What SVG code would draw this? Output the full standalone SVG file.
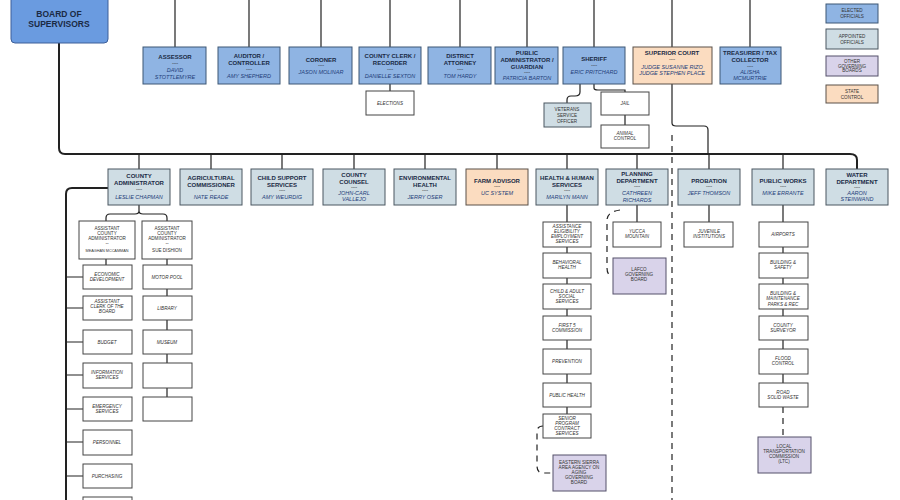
<svg xmlns="http://www.w3.org/2000/svg" width="900" height="500" viewBox="0 0 900 500">
<style>
text{font-family:"Liberation Sans",Arial,sans-serif;text-anchor:middle;fill:#1a2a44}
.b{font-weight:bold;font-size:6px}
.n{font-style:italic;font-size:5.5px;fill:#24407a}
.s{font-size:4.6px;font-style:italic;fill:#333}
.el rect{fill:#8fb4e3;stroke:#3d5775;stroke-width:1}
.ap rect{fill:#cfdde4;stroke:#4a5660;stroke-width:1}
.st rect{fill:#fbdcc0;stroke:#5a5048;stroke-width:1}
.ot rect{fill:#d9d3ea;stroke:#55506a;stroke-width:1}
.wh rect{fill:#fff;stroke:#444;stroke-width:1}
.c path{fill:none;stroke:#222;stroke-width:1.2}
.c .th{stroke-width:2}
.c .d{stroke-dasharray:6,5}
</style>
<g class="c" id="connectors">
<path class="th" d="M59 43V148Q59 154 65 154H850Q857 154 857 160V169"/>
<path d="M175 0V47M249 0V47M321 0V47M390 0V47M460 0V47M527 0V47M594 0V47M672 0V47M750 0V47"/>
<path d="M390 84V91M580 84V92Q580 96 575 96H571Q567 96 567 100V103M594 84V88Q594 90 598 90H625V92M625 115V125"/>
<path d="M672 84V123Q672 126 676 126H704Q708 126 708 130V154"/>
<path class="d" d="M672 135V500"/>
<path d="M139 154V169M211 154V169M282 154V169M354 154V169M425 154V169M497 154V169M567 154V169M637 154V169M709 154V169M783 154V169"/>
<path class="th" d="M108 188H72Q66 188 66 194V500"/>
<path d="M139 205V211Q139 214 135 214H110Q106 214 106 218V221M139 211Q139 214 143 214H163Q167 214 167 218V221"/>
<path d="M106 259V265M167 259V265M167 289V296M167 320V330M167 354V363M167 388V397"/>
<path d="M66 277H83M66 308H83M66 342H83M66 375H83M66 409H83M66 442H83M66 476H83"/>
<path d="M567 205V222M567 247V253M567 278V284M567 309V316M567 340V349M567 374V383M567 407V414"/>
<path class="d" d="M543 426Q537 426 537 432V466Q537 473 543 473H553"/>
<path d="M637 205V222"/>
<path class="d" d="M620 210Q607 212 607 220V268Q607 276 613 276"/>
<path d="M709 205V222"/>
<path d="M783 205V222M783 247V253M783 278V284M783 309V316M783 340V349M783 374V383"/>
<path class="d" d="M783 407V437"/>
</g>
<g id="board"><rect x="11" y="-4" width="97" height="47" rx="4" fill="#6a9be0" stroke="#3d5f99"/><text x="59" y="17" style="font-weight:bold;font-size:8.5px">BOARD OF</text><text x="59" y="27" style="font-weight:bold;font-size:8.5px">SUPERVISORS</text></g>
<g id="assessor" class="el"><rect x="143" y="47" width="63" height="37"/><text class="b" x="175" y="59">ASSESSOR</text><text class="s" x="175" y="65">----</text><text class="n" x="175" y="72">DAVID</text><text class="n" x="175" y="79">STOTTLEMYRE</text></g>
<g id="auditor" class="el"><rect x="218" y="47" width="62" height="37"/><text class="b" x="249" y="58">AUDITOR /</text><text class="b" x="249" y="65">CONTROLLER</text><text class="s" x="249" y="71">----</text><text class="n" x="249" y="78">AMY SHEPHERD</text></g>
<g id="coroner" class="el"><rect x="289" y="47" width="63" height="37"/><text class="b" x="321" y="62">CORONER</text><text class="s" x="321" y="67">----</text><text class="n" x="321" y="74">JASON MOLINAR</text></g>
<g id="clerk" class="el"><rect x="359" y="47" width="62" height="37"/><text class="b" x="390" y="58">COUNTY CLERK /</text><text class="b" x="390" y="65">RECORDER</text><text class="s" x="390" y="71">----</text><text class="n" x="390" y="78">DANIELLE SEXTON</text></g>
<g id="elections" class="wh"><rect x="366" y="91" width="48" height="24"/><text class="s" x="390" y="105">ELECTIONS</text></g>
<g id="da" class="el"><rect x="428" y="47" width="63" height="37"/><text class="b" x="460" y="58">DISTRICT</text><text class="b" x="460" y="65">ATTORNEY</text><text class="s" x="460" y="71">----</text><text class="n" x="460" y="78">TOM HARDY</text></g>
<g id="pubadmin" class="el"><rect x="495" y="47" width="63" height="37"/><text class="b" x="527" y="55">PUBLIC</text><text class="b" x="527" y="62">ADMINISTRATOR /</text><text class="b" x="527" y="69">GUARDIAN</text><text class="s" x="527" y="74">----</text><text class="n" x="527" y="80">PATRICIA BARTON</text></g>
<g id="sheriff" class="el"><rect x="563" y="47" width="62" height="37"/><text class="b" x="594" y="61">SHERIFF</text><text class="s" x="594" y="67">----</text><text class="n" x="594" y="74">ERIC PRITCHARD</text></g>
<g id="veterans" class="ap"><rect x="544" y="103" width="47" height="24"/><text class="s" x="567" y="111" style="font-style:normal">VETERANS</text><text class="s" x="567" y="117" style="font-style:normal">SERVICE</text><text class="s" x="567" y="123" style="font-style:normal">OFFICER</text></g>
<g id="jail" class="wh"><rect x="601" y="92" width="48" height="23"/><text class="s" x="625" y="105">JAIL</text></g>
<g id="animal" class="wh"><rect x="601" y="125" width="48" height="23"/><text class="s" x="625" y="135">ANIMAL</text><text class="s" x="625" y="140">CONTROL</text></g>
<g id="court" class="st"><rect x="633" y="47" width="79" height="37"/><text class="b" x="672" y="55">SUPERIOR COURT</text><text class="s" x="672" y="61">----</text><text class="n" x="672" y="69">JUDGE SUSANNE RIZO</text><text class="n" x="672" y="75">JUDGE STEPHEN PLACE</text></g>
<g id="treasurer" class="el"><rect x="720" y="47" width="61" height="37"/><text class="b" x="750" y="55">TREASURER / TAX</text><text class="b" x="750" y="62">COLLECTOR</text><text class="s" x="750" y="68">----</text><text class="n" x="750" y="74">ALISHA</text><text class="n" x="750" y="80">MCMURTRIE</text></g>
<g id="legend-elected" class="el"><rect x="826" y="4" width="52" height="19"/><text class="s" x="852" y="12" style="font-style:normal">ELECTED</text><text class="s" x="852" y="18" style="font-style:normal">OFFICIALS</text></g>
<g id="legend-appointed" class="ap"><rect x="826" y="29" width="52" height="20"/><text class="s" x="852" y="38" style="font-style:normal">APPOINTED</text><text class="s" x="852" y="44" style="font-style:normal">OFFICIALS</text></g>
<g id="legend-other" class="ot"><rect x="826" y="56" width="52" height="20"/><text class="s" x="852" y="63" style="font-style:normal">OTHER</text><text class="s" x="852" y="67.5" style="font-style:normal">GOVERNING</text><text class="s" x="852" y="72" style="font-style:normal">BOARDS</text></g>
<g id="legend-state" class="st"><rect x="826" y="85" width="52" height="18"/><text class="s" x="852" y="93" style="font-style:normal">STATE</text><text class="s" x="852" y="99" style="font-style:normal">CONTROL</text></g>
<g id="cao" class="ap"><rect x="108" y="169" width="62" height="36"/><text class="b" x="139" y="178">COUNTY</text><text class="b" x="139" y="185">ADMINISTRATOR</text><text class="s" x="139" y="191">----</text><text class="n" x="139" y="199">LESLIE CHAPMAN</text></g>
<g id="ag" class="ap"><rect x="180" y="169" width="62" height="36"/><text class="b" x="211" y="180">AGRICULTURAL</text><text class="b" x="211" y="187">COMMISSIONER</text><text class="s" x="211" y="192">--</text><text class="n" x="211" y="199">NATE READE</text></g>
<g id="childsupport" class="ap"><rect x="251" y="169" width="62" height="36"/><text class="b" x="282" y="180">CHILD SUPPORT</text><text class="b" x="282" y="187">SERVICES</text><text class="s" x="282" y="192">----</text><text class="n" x="282" y="199">AMY WEURDIG</text></g>
<g id="counsel" class="ap"><rect x="323" y="169" width="62" height="36"/><text class="b" x="354" y="177">COUNTY</text><text class="b" x="354" y="184">COUNSEL</text><text class="s" x="354" y="189">----</text><text class="n" x="354" y="195">JOHN-CARL</text><text class="n" x="354" y="201">VALLEJO</text></g>
<g id="envhealth" class="ap"><rect x="394" y="169" width="62" height="36"/><text class="b" x="425" y="180">ENVIRONMENTAL</text><text class="b" x="425" y="187">HEALTH</text><text class="s" x="425" y="192">----</text><text class="n" x="425" y="199">JERRY OSER</text></g>
<g id="farm" class="st"><rect x="466" y="169" width="62" height="36"/><text class="b" x="497" y="183">FARM ADVISOR</text><text class="s" x="497" y="188">----</text><text class="n" x="497" y="195">UC SYSTEM</text></g>
<g id="hhs" class="ap"><rect x="536" y="169" width="62" height="36"/><text class="b" x="567" y="180">HEALTH &amp; HUMAN</text><text class="b" x="567" y="187">SERVICES</text><text class="s" x="567" y="192">----</text><text class="n" x="567" y="199">MARILYN MANN</text></g>
<g id="planning" class="ap"><rect x="606" y="169" width="62" height="36"/><text class="b" x="637" y="176">PLANNING</text><text class="b" x="637" y="183">DEPARTMENT</text><text class="s" x="637" y="188">----</text><text class="n" x="637" y="195">CATHREEN</text><text class="n" x="637" y="202">RICHARDS</text></g>
<g id="probation" class="ap"><rect x="678" y="169" width="62" height="36"/><text class="b" x="709" y="183">PROBATION</text><text class="s" x="709" y="188">----</text><text class="n" x="709" y="195">JEFF THOMSON</text></g>
<g id="publicworks" class="ap"><rect x="752" y="169" width="62" height="36"/><text class="b" x="783" y="183">PUBLIC WORKS</text><text class="s" x="783" y="188">----</text><text class="n" x="783" y="195">MIKE ERRANTE</text></g>
<g id="water" class="ap"><rect x="826" y="169" width="62" height="36"/><text class="b" x="857" y="177">WATER</text><text class="b" x="857" y="184">DEPARTMENT</text><text class="s" x="857" y="189">----</text><text class="n" x="857" y="195">AARON</text><text class="n" x="857" y="201">STEINWAND</text></g>
<g id="asst1" class="wh"><rect x="79" y="221" width="56" height="38"/><text class="s" x="107" y="230" style="font-style:normal">ASSISTANT</text><text class="s" x="107" y="235" style="font-style:normal">COUNTY</text><text class="s" x="107" y="240" style="font-style:normal">ADMINISTRATOR</text><text class="s" x="107" y="245">--</text><text class="s" x="107" y="252" style="font-size:3.8px;font-style:normal">MEAGHAN MCCAMMAN</text></g>
<g id="asst2" class="wh"><rect x="142" y="221" width="50" height="38"/><text class="s" x="167" y="230" style="font-style:normal">ASSISTANT</text><text class="s" x="167" y="235" style="font-style:normal">COUNTY</text><text class="s" x="167" y="240" style="font-style:normal">ADMINISTRATOR</text><text class="s" x="167" y="245">--</text><text class="s" x="167" y="252" style="font-style:normal">SUE DISHION</text></g>
<g id="econ" class="wh"><rect x="83" y="265" width="49" height="24"/><text class="s" x="107" y="276">ECONOMIC</text><text class="s" x="107" y="281">DEVELOPMENT</text></g>
<g id="asstclerk" class="wh"><rect x="83" y="296" width="49" height="24"/><text class="s" x="107" y="303">ASSISTANT</text><text class="s" x="107" y="308">CLERK OF THE</text><text class="s" x="107" y="313">BOARD</text></g>
<g id="budget" class="wh"><rect x="83" y="330" width="49" height="24"/><text class="s" x="107" y="344">BUDGET</text></g>
<g id="info" class="wh"><rect x="83" y="363" width="49" height="25"/><text class="s" x="107" y="374">INFORMATION</text><text class="s" x="107" y="379">SERVICES</text></g>
<g id="emerg" class="wh"><rect x="83" y="397" width="49" height="24"/><text class="s" x="107" y="408">EMERGENCY</text><text class="s" x="107" y="413">SERVICES</text></g>
<g id="personnel" class="wh"><rect x="83" y="430" width="49" height="25"/><text class="s" x="107" y="444">PERSONNEL</text></g>
<g id="purchasing" class="wh"><rect x="83" y="464" width="49" height="24"/><text class="s" x="107" y="478">PURCHASING</text></g>
<g id="cao-more" class="wh"><rect x="83" y="497" width="49" height="24"/></g>
<g id="motorpool" class="wh"><rect x="143" y="265" width="49" height="24"/><text class="s" x="167" y="279">MOTOR POOL</text></g>
<g id="library" class="wh"><rect x="143" y="296" width="49" height="24"/><text class="s" x="167" y="310">LIBRARY</text></g>
<g id="museum" class="wh"><rect x="143" y="330" width="49" height="24"/><text class="s" x="167" y="344">MUSEUM</text></g>
<g id="blank1" class="wh"><rect x="143" y="363" width="49" height="25"/></g>
<g id="blank2" class="wh"><rect x="143" y="397" width="49" height="24"/></g>
<g id="assistance" class="wh"><rect x="543" y="222" width="48" height="25"/><text class="s" x="567" y="228">ASSISTANCE</text><text class="s" x="567" y="233">ELIGIBILITY</text><text class="s" x="567" y="238">EMPLOYMENT</text><text class="s" x="567" y="243">SERVICES</text></g>
<g id="behavioral" class="wh"><rect x="543" y="253" width="48" height="25"/><text class="s" x="567" y="264">BEHAVIORAL</text><text class="s" x="567" y="269">HEALTH</text></g>
<g id="childadult" class="wh"><rect x="543" y="284" width="48" height="25"/><text class="s" x="567" y="293">CHILD &amp; ADULT</text><text class="s" x="567" y="298">SOCIAL</text><text class="s" x="567" y="303">SERVICES</text></g>
<g id="first5" class="wh"><rect x="543" y="316" width="48" height="24"/><text class="s" x="567" y="327">FIRST 5</text><text class="s" x="567" y="332">COMMISSION</text></g>
<g id="prevention" class="wh"><rect x="543" y="349" width="48" height="25"/><text class="s" x="567" y="363">PREVENTION</text></g>
<g id="publichealth" class="wh"><rect x="543" y="383" width="48" height="24"/><text class="s" x="567" y="397">PUBLIC HEALTH</text></g>
<g id="senior" class="wh"><rect x="543" y="414" width="48" height="24"/><text class="s" x="567" y="420">SENIOR</text><text class="s" x="567" y="425">PROGRAM</text><text class="s" x="567" y="430">CONTRACT</text><text class="s" x="567" y="435">SERVICES</text></g>
<g id="esaaa" class="ot"><rect x="553" y="455" width="53" height="36"/><text class="s" x="579" y="464" style="font-style:normal">EASTERN SIERRA</text><text class="s" x="579" y="469" style="font-style:normal">AREA AGENCY ON</text><text class="s" x="579" y="474" style="font-style:normal">AGING</text><text class="s" x="579" y="479" style="font-style:normal">GOVERNING</text><text class="s" x="579" y="484" style="font-style:normal">BOARD</text></g>
<g id="yucca" class="wh"><rect x="613" y="222" width="48" height="25"/><text class="s" x="637" y="233">YUCCA</text><text class="s" x="637" y="238">MOUNTAIN</text></g>
<g id="lafco" class="ot"><rect x="613" y="258" width="53" height="36"/><text class="s" x="639" y="271" style="font-style:normal">LAFCO</text><text class="s" x="639" y="276" style="font-style:normal">GOVERNING</text><text class="s" x="639" y="281" style="font-style:normal">BOARD</text></g>
<g id="juvenile" class="wh"><rect x="684" y="222" width="49" height="25"/><text class="s" x="709" y="233">JUVENILE</text><text class="s" x="709" y="238">INSTITUTIONS</text></g>
<g id="airports" class="wh"><rect x="759" y="222" width="49" height="25"/><text class="s" x="783" y="236">AIRPORTS</text></g>
<g id="bldgsafety" class="wh"><rect x="759" y="253" width="49" height="25"/><text class="s" x="783" y="264">BUILDING &amp;</text><text class="s" x="783" y="269">SAFETY</text></g>
<g id="bldgmaint" class="wh"><rect x="759" y="284" width="49" height="25"/><text class="s" x="783" y="295">BUILDING &amp;</text><text class="s" x="783" y="300">MAINTENANCE</text><text class="s" x="783" y="306">PARKS &amp; REC</text></g>
<g id="surveyor" class="wh"><rect x="759" y="316" width="49" height="24"/><text class="s" x="783" y="327">COUNTY</text><text class="s" x="783" y="332">SURVEYOR</text></g>
<g id="flood" class="wh"><rect x="759" y="349" width="49" height="25"/><text class="s" x="783" y="360">FLOOD</text><text class="s" x="783" y="365">CONTROL</text></g>
<g id="road" class="wh"><rect x="759" y="383" width="49" height="24"/><text class="s" x="783" y="394">ROAD</text><text class="s" x="783" y="399">SOLID WASTE</text></g>
<g id="ltc" class="ot"><rect x="758" y="437" width="53" height="36"/><text class="s" x="784" y="448" style="font-style:normal">LOCAL</text><text class="s" x="784" y="453" style="font-style:normal">TRANSPORTATION</text><text class="s" x="784" y="458" style="font-style:normal">COMMISSION</text><text class="s" x="784" y="463" style="font-style:normal">(LTC)</text></g>
</svg>
